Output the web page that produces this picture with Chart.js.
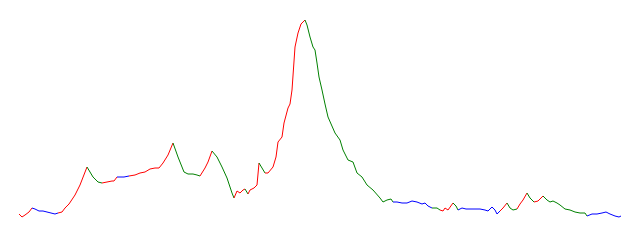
<!DOCTYPE html>
<html>
<head>
<meta charset="utf-8">
<script src="https://cdn.jsdelivr.net/npm/chart.js@4/dist/chart.umd.min.js"></script>
<style>
    html, body { margin: 0; padding: 0; background: #fff; }
    #wrap { width: 640px; height: 240px; }
</style>
</head>
<body>
<div id="wrap"><canvas id="trendChart" width="640" height="240"></canvas></div>
<script>
// Series (x = step, y = level)
const days = [
    0, 3, 6, 10, 13, 16, 20, 24, 28, 32,
    36, 39, 43, 46, 50, 56, 61, 68, 71, 74,
    79, 83, 88, 93, 95, 98, 101, 105, 110, 116,
    121, 126, 131, 136, 140, 144, 149, 154, 159, 165,
    169, 174, 178, 181, 186, 189, 193, 198, 203, 208,
    211, 213, 215, 218, 221, 224, 226, 229, 231, 235,
    238, 240, 243, 246, 249, 254, 257, 259, 263, 265,
    269, 271, 273, 276, 279, 282, 284, 286, 288, 291,
    294, 296, 298, 300, 303, 306, 309, 316, 321, 324,
    329, 334, 338, 343, 348, 354, 361, 364, 368, 372,
    374, 378, 383, 388, 393, 398, 403, 406, 409, 413,
    418, 421, 424, 426, 429, 434, 437, 439, 443, 447,
    451, 456, 461, 466, 469, 473, 476, 478, 481, 484,
    488, 491, 494, 498, 501, 504, 508, 511, 515, 519,
    524, 528, 531, 534, 538, 541, 546, 551, 556, 561,
    566, 568, 573, 578, 583, 587, 591, 596, 600, 602
];

const values = [
    13, 10, 12, 15, 19, 18, 16, 16, 15, 14,
    13, 14, 15, 19, 23, 32, 42, 60, 55, 50,
    45, 44, 45, 46, 46, 50, 50, 50, 51, 52,
    54, 55, 58, 59, 59, 64, 72, 84, 70, 55,
    53, 53, 52, 51, 59, 65, 76, 70, 60, 49,
    40, 34, 29, 36, 34, 37, 38, 33, 37, 39,
    42, 64, 59, 54, 54, 60, 70, 85, 90, 104,
    119, 123, 137, 180, 194, 203, 205, 207, 202, 190,
    180, 177, 164, 150, 137, 123, 110, 94, 87, 77,
    67, 65, 54, 50, 42, 37, 29, 25, 27, 28,
    25, 25, 24, 24, 26, 25, 23, 24, 21, 19,
    19, 17, 16, 19, 17, 24, 21, 17, 19, 18,
    18, 18, 18, 17, 16, 20, 17, 13, 16, 19,
    24, 19, 17, 18, 23, 27, 34, 29, 25, 26,
    31, 27, 25, 26, 24, 22, 18, 17, 15, 14,
    14, 11, 13, 13, 14, 15, 13, 11, 10, 11
];

// Trend regimes as runs: [trend, number of segments]
const trendRuns = [
    ['up', 4], ['flat', 7], ['up', 6], ['down', 4], ['up', 4], ['flat', 3],
    ['up', 9], ['down', 6], ['up', 3], ['down', 6], ['up', 4], ['down', 1],
    ['up', 4], ['down', 2], ['up', 14], ['down', 23], ['flat', 9], ['down', 2],
    ['up', 4], ['down', 2], ['flat', 11], ['up', 2], ['down', 3], ['up', 3],
    ['down', 2], ['up', 2], ['down', 11], ['flat', 8]
];

const trendColors = { up: '#ff0000', down: '#008000', flat: '#0000ff' };

// expand runs to one trend per segment
const trends = [];
trendRuns.forEach(([t, n]) => {
    for (let i = 0; i < n; i++) trends.push(t);
});

const points = days.map((d, i) => ({ x: d, y: values[i] }));

const ctx = document.getElementById('trendChart').getContext('2d');
new Chart(ctx, {
    type: 'line',
    data: {
        datasets: [{
            data: points,
            borderWidth: 1,
            borderColor: trendColors.up,
            pointRadius: 0,
            tension: 0,
            fill: false,
            segment: {
                borderColor: c => trendColors[trends[c.p0DataIndex]] || trendColors.flat
            }
        }]
    },
    options: {
        responsive: false,
        animation: false,
        layout: { padding: 0 },
        plugins: {
            legend: { display: false },
            tooltip: { enabled: false }
        },
        scales: {
            x: { type: 'linear', display: false, min: -19, max: 621 },
            y: { display: false, min: -13, max: 227 }
        }
    }
});
</script>
</body>
</html>
